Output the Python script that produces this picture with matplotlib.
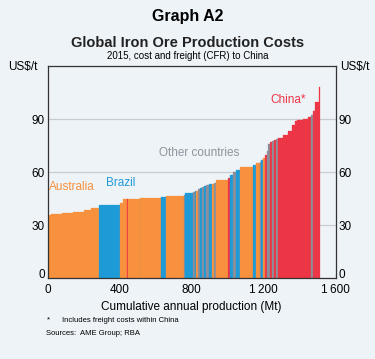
import numpy as np
import matplotlib.pyplot as plt
import matplotlib.transforms as mtransforms

plt.rcParams['font.family'] = ['Liberation Sans', 'DejaVu Sans']

# mine capacity (Mt), CFR cost (US$/t) and country, sorted by cost
capacity = [18, 62, 61, 62, 39, 41, 121, 16, 20, 4, 67, 3, 114, 31, 96, 10,
            41, 10, 8, 10, 12, 11, 12, 11, 17, 17, 8, 14, 65, 13, 17, 17, 18,
            75, 15, 22, 10, 9, 9, 10, 9, 8, 11, 11, 11, 15, 24, 32, 19, 16,
            12, 33, 32, 14, 13, 8, 4, 17, 9]
cost = [35.5, 36.5, 37, 37.5, 38.5, 39.5, 41.3, 42.6, 44.5, 44.6, 45, 45.1,
        45.3, 46, 46.6, 47, 48, 48.8, 49.2, 49.4, 50.5, 50.8, 51.3, 52, 52.5,
        53.2, 53.4, 53.8, 55.8, 56.4, 58.5, 60, 61, 63, 64.3, 64.9, 65.8,
        66.8, 68, 69.6, 72, 76, 77.1, 77.8, 78.3, 78.8, 79.6, 81, 83.5, 86.5,
        89, 89.8, 90.3, 91, 92.5, 94.5, 96, 100, 108]
country = ['A', 'A', 'A', 'A', 'A', 'A', 'B', 'A', 'A', 'C', 'A', 'O', 'A',
           'B', 'A', 'O', 'B', 'O', 'B', 'A', 'O', 'B', 'O', 'B', 'O', 'B',
           'A', 'O', 'A', 'C', 'B', 'O', 'B', 'A', 'B', 'A', 'O', 'B', 'A',
           'C', 'O', 'O', 'C', 'O', 'C', 'O', 'C', 'C', 'C', 'C', 'C', 'C',
           'C', 'C', 'O', 'C', 'O', 'C', 'C']

colours = {'A': '#F7913D', 'B': '#1E9AD6', 'C': '#EC3545', 'O': '#8A8F9A'}
bg = '#EEF3F8'

capacity = np.array(capacity, dtype=float)
left = np.concatenate([[0], np.cumsum(capacity)[:-1]])

fig = plt.figure(figsize=(3.75, 3.59), dpi=100, facecolor=bg)
ax = fig.add_axes([0.127, 0.2256, 0.768, 0.59], facecolor=bg)

ax.yaxis.grid(True, color='#C8CCD0', lw=0.9)
ax.set_axisbelow(True)
ax.bar(left, cost, width=capacity, align='edge',
       color=[colours[c] for c in country],
       edgecolor=[colours[c] for c in country], linewidth=0.2, zorder=2)

ax.set_xlim(0, 1600)
ax.set_ylim(0, 120)
ax.set_xticks([0, 400, 800, 1200, 1600])
ax.set_xticklabels(['0', '400', '800', '1\u2009200', '1\u2009600'])
ax.set_yticks([0, 30, 60, 90])
ax.tick_params(axis='x', direction='in', length=3, width=0.8,
               labelsize=8.5, pad=4, color='#222222')
ax.tick_params(axis='y', length=0, labelsize=8.5, pad=2,
               labelright=True, right=True)
# lift the two "0" labels a little so they clear the x labels
lift = mtransforms.ScaledTranslation(0, 3 / 72, fig.dpi_scale_trans)
zero = ax.yaxis.get_major_ticks()[0]
zero.label1.set_transform(zero.label1.get_transform() + lift)
zero.label2.set_transform(zero.label2.get_transform() + lift)
for s in ax.spines.values():
    s.set_color('#333333')
    s.set_linewidth(0.9)

ax.set_xlabel('Cumulative annual production (Mt)', fontsize=8.5, labelpad=4)

fig.text(0.5, 0.953, 'Graph A2', ha='center', va='center',
         fontsize=11.5, fontweight='bold')
fig.text(0.5, 0.880, 'Global Iron Ore Production Costs', ha='center',
         va='center', fontsize=10.5, fontweight='bold', color='#222222')
fig.text(0.5, 0.845, '2015, cost and freight (CFR) to China', ha='center',
         va='center', fontsize=7)
fig.text(0.06, 0.813, 'US$/t', ha='center', va='center', fontsize=8.5)
fig.text(0.945, 0.813, 'US$/t', ha='center', va='center', fontsize=8.5)

ax.text(5, 50, 'Australia', color=colours['A'], fontsize=8.5)
ax.text(325, 52, 'Brazil', color=colours['B'], fontsize=8.5)
ax.text(620, 69, 'Other countries', color='#8E949C', fontsize=8.5)
ax.text(1240, 99, 'China*', color=colours['C'], fontsize=8.5)

fig.text(0.125, 0.108, '*', fontsize=5.5, va='center')
fig.text(0.165, 0.108, 'Includes freight costs within China', fontsize=5.5,
         va='center')
fig.text(0.122, 0.072, 'Sources:  AME Group; RBA', fontsize=5.5, va='center')

fig.savefig('out.png', dpi=100, facecolor=bg)
